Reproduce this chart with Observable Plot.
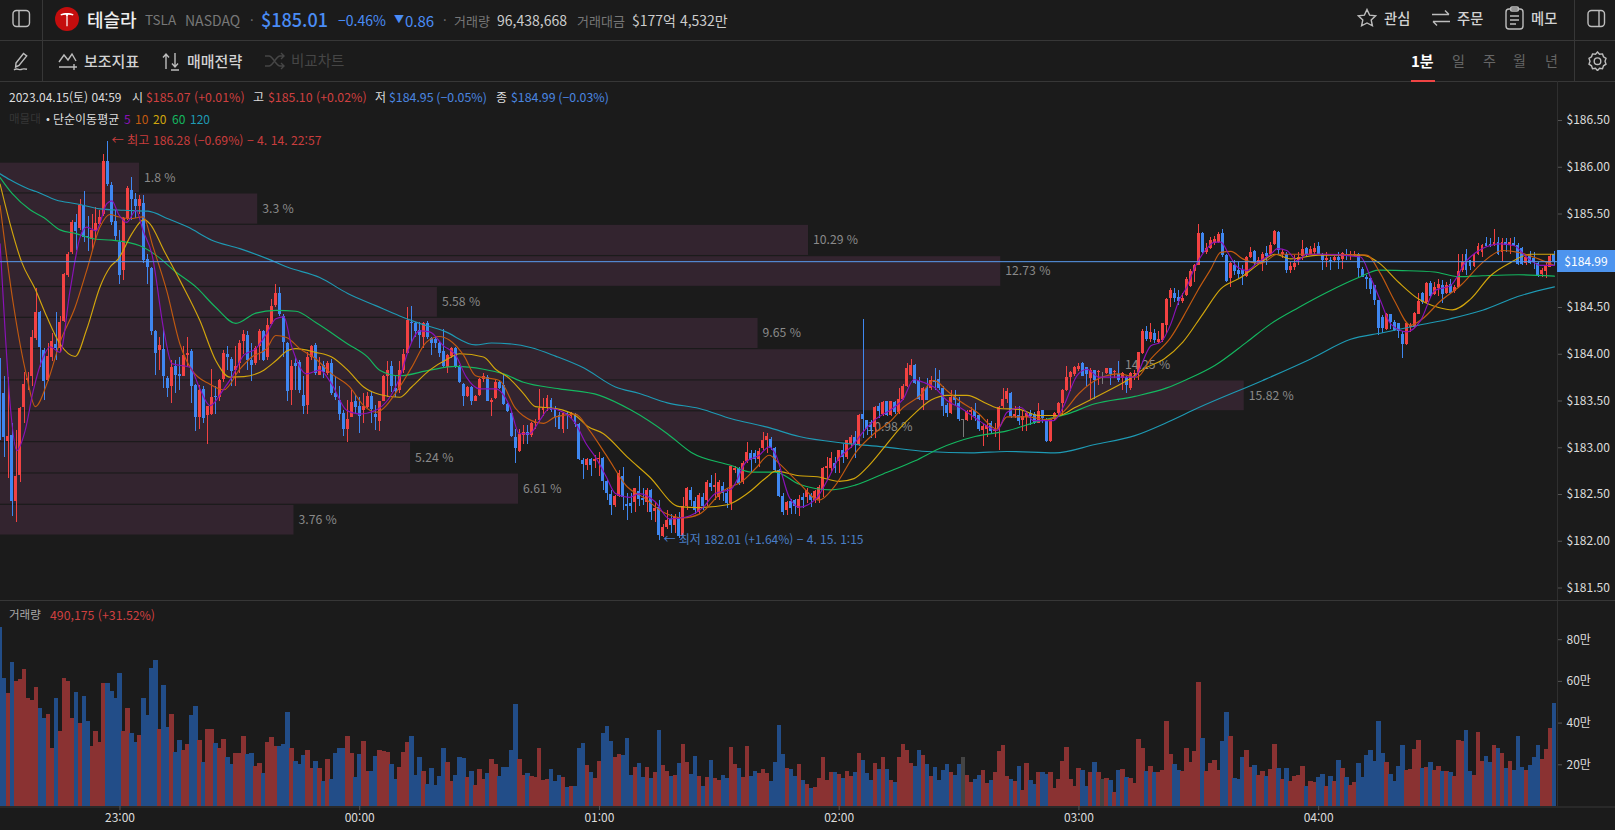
<!DOCTYPE html>
<html lang="ko"><head><meta charset="utf-8">
<script src="https://cdn.jsdelivr.net/npm/d3@7"></script>
<script src="https://cdn.jsdelivr.net/npm/@observablehq/plot@0.6"></script>
<style>
html,body{margin:0;padding:0;background:#1b1b1b;width:1615px;height:830px;overflow:hidden}
#app{position:relative;width:1615px;height:830px;font-family:"Noto Sans CJK KR","Noto Sans",sans-serif;color:#ddd}
#app>span{position:absolute;white-space:nowrap;line-height:1;transform:translateY(-50%)}
#app>svg.i{position:absolute;fill:none;stroke:#bdbdbd;stroke-width:1.4}
.ln{position:absolute;background:#373737}
.plotbox{position:absolute;left:0}
.g{color:#777}.v{color:#ccc}.b{font-weight:500;color:#d2d2d2}
.r{color:#cf4040}.bl{color:#4a86e0}.w{color:#ddd}
</style></head><body><div id="app">
<div class="ln" style="left:0;top:40px;width:1615px;height:1px"></div>
<div class="ln" style="left:0;top:81px;width:1615px;height:1px"></div>
<div class="ln" style="left:42px;top:0;width:1px;height:81px"></div>
<div class="ln" style="left:1574px;top:0;width:1px;height:81px"></div>
<div class="ln" style="left:1411px;top:80px;width:24px;height:2px;background:#ef4444"></div>

<svg class="i" style="left:12px;top:9px" width="19" height="19"><rect x="1" y="1.5" width="16.5" height="16" rx="3.5"/><path d="M7 2v15"/></svg>
<svg style="position:absolute;left:55px;top:7px" width="24" height="24"><circle cx="12" cy="12" r="12" fill="#c40d0d"/><path d="M5.5 7.2C9 5.6 15 5.6 18.5 7.2L18 8.6C16.5 8 15 7.8 13.3 7.8L12.6 9.2V19L12 19.6 11.4 19V9.2L10.7 7.8C9 7.8 7.5 8 6 8.6Z" fill="#fff"/></svg>
<span style="left:87px;top:19px;font-size:18px;font-weight:500;color:#eee">테슬라</span>
<span class="g" style="left:145px;top:20px;font-size:13.5px">TSLA</span>
<span class="g" style="left:185px;top:20px;font-size:14px">NASDAQ</span>
<span class="g" style="left:250px;top:19px;font-size:13px">·</span>
<span style="left:261px;top:19px;font-size:18px;font-weight:500;color:#4a8cf5">$185.01</span>
<span style="left:338px;top:20px;font-size:14px;color:#4a8cf5">−0.46%</span>
<span style="left:394px;top:19px;font-size:10px;color:#4a8cf5">▼</span>
<span style="left:405px;top:20px;font-size:15px;color:#4a8cf5">0.86</span>
<span class="g" style="left:443px;top:19px;font-size:13px">·</span>
<span class="g" style="left:454px;top:20px;font-size:13px">거래량</span>
<span class="v" style="left:497px;top:20px;font-size:14px">96,438,668</span>
<span class="g" style="left:577px;top:20px;font-size:13px">거래대금</span>
<span class="v" style="left:632px;top:20px;font-size:14px">$177억 4,532만</span>

<svg class="i" style="left:1357px;top:8px" width="20" height="20"><path d="M10 1.5l2.6 5.6 6 .7-4.4 4.1 1.2 5.9L10 15l-5.4 2.8 1.2-5.9L1.4 7.8l6-.7z"/></svg>
<span class="b" style="left:1384px;top:18px;font-size:14.3px">관심</span>
<svg class="i" style="left:1431px;top:9px" width="20" height="18"><path d="M1 5.5h17M14 1.5l4 4M19 12.5H2M6 16.5l-4-4"/></svg>
<span class="b" style="left:1457px;top:18px;font-size:14.3px">주문</span>
<svg class="i" style="left:1505px;top:6px" width="19" height="24"><rect x="1" y="3" width="17" height="20" rx="3"/><rect x="5.5" y="1" width="8" height="4" rx="1.5"/><path d="M5 10h9M5 14h9M5 18h6"/></svg>
<span class="b" style="left:1531px;top:18px;font-size:14.3px">메모</span>
<svg class="i" style="left:1587px;top:9px" width="19" height="19"><rect x="1" y="1.5" width="16.5" height="16" rx="3.5"/><path d="M12 2v15"/></svg>

<svg class="i" style="left:12px;top:51px" width="20" height="20"><path d="M4 12L11.5 2.5l3.2 2.4L7 14.5 3.6 16zM2 19c3-2.500 5 .5 7-.5s3-1 6-.2"/></svg>
<span class="b" style="left:84px;top:60px;font-size:15px">보조지표</span>
<svg class="i" style="left:58px;top:51px" width="20" height="19"><path d="M1 11l5-7 4 5 4-6 4 7M1 16h12M16 13v6M13 16h6"/></svg>
<span class="b" style="left:187px;top:60px;font-size:15px">매매전략</span>
<svg class="i" style="left:162px;top:52px" width="20" height="19"><path d="M4 17V2M1 5.500L4 2l3 3.500M13 1v14M10 11.500L13 15l3-3.500M9 18h8"/></svg>
<span style="left:291px;top:60px;font-size:14.500px;color:#464646">비교차트</span>
<svg class="i" style="left:265px;top:52px;stroke:#464646" width="20" height="18"><path d="M0 4h4c4 0 7 10 11 10h4M0 14h4c4 0 7-10 11-10h4M16 1l3 3-3 3M16 11l3 3-3 3"/></svg>
<span style="left:1411px;top:60px;font-size:15px;font-weight:700;color:#fff">1분</span>
<span class="g" style="left:1452px;top:60px;font-size:14px;color:#666">일</span>
<span class="g" style="left:1483px;top:60px;font-size:14px;color:#666">주</span>
<span class="g" style="left:1513px;top:60px;font-size:14px;color:#666">월</span>
<span class="g" style="left:1545px;top:60px;font-size:14px;color:#666">년</span>
<svg class="i" style="left:1588px;top:51px" width="19" height="20"><path d="M9.500 1l2 2.300 3-.4 1 2.900 2.500 1.600-1 2.900 1 2.900-2.500 1.600-1 2.900-3-.4-2 2.300-2-2.300-3 .4-1-2.900L1 13.200l1-2.900-1-2.900 2.500-1.600 1-2.900 3 .4z"/><circle cx="9.500" cy="10.200" r="3.300"/></svg>

<span class="w" style="left:9px;top:97px;font-size:12px">2023.04.15(토) 04:59</span>
<span class="w" style="left:132px;top:97px;font-size:12px">시</span>
<span class="r" style="left:146px;top:97px;font-size:12.350px">$185.07 (+0.01%)</span>
<span class="w" style="left:253px;top:97px;font-size:12px">고</span>
<span class="r" style="left:268px;top:97px;font-size:12.350px">$185.10 (+0.02%)</span>
<span class="w" style="left:375px;top:97px;font-size:12px">저</span>
<span class="bl" style="left:389px;top:97px;font-size:12.350px">$184.95 (−0.05%)</span>
<span class="w" style="left:496px;top:97px;font-size:12px">종</span>
<span class="bl" style="left:511px;top:97px;font-size:12.350px">$184.99 (−0.03%)</span>
<span style="left:9px;top:119px;font-size:11.500px;color:#363636">매물대</span>
<span class="w" style="left:46px;top:119px;font-size:11.500px">•</span>
<span class="w" style="left:53px;top:119px;font-size:12px">단순이동평균</span>
<span style="left:124px;top:119px;font-size:12px;color:#8a12b8">5</span>
<span style="left:135px;top:119px;font-size:12px;color:#c25a10">10</span>
<span style="left:153px;top:119px;font-size:12px;color:#d2a60c">20</span>
<span style="left:172px;top:119px;font-size:12px;color:#14b860">60</span>
<span style="left:190px;top:119px;font-size:12px;color:#1e9ab4">120</span>

<div class="plotbox" id="price" style="top:81px"></div>
<div class="ln" style="left:0;top:600px;width:1615px;height:1px"></div>
<div class="plotbox" id="vol" style="top:601px"></div>
<span style="left:9px;top:615px;font-size:11.500px;color:#aaa">거래량</span>
<span class="r" style="left:50px;top:615px;font-size:12.300px">490,175 (+31.52%)</span>
<div id="tag" style="position:absolute;left:1557px;width:58px;height:22px;background:#4d94ee;color:#fff;font-size:12px;line-height:22px;text-align:center">$184.99</div>
</div>
<script>
// Each candle: [open, high, low, close], one list per trading hour
const bars2230 = [
[183.93,183.95,183.08,183.17],[183.58,183.76,182.90,183.11],[183.07,183.75,182.67,183.12],[183.13,183.26,182.27,182.43],[182.43,183.18,182.20,182.69],
[182.70,183.43,182.63,183.42],[183.43,183.81,183.26,183.68],[183.72,183.81,183.61,183.74],[183.76,184.25,183.65,184.18],[184.17,184.70,184.15,184.45],
[184.45,184.46,183.86,184.07],[184.04,184.06,183.51,183.71],[183.72,184.11,183.71,183.98],[183.97,184.22,183.92,184.14],[184.10,184.45,183.93,184.06],
[184.06,184.40,184.02,184.34],[184.35,184.86,184.34,184.85],[184.84,185.09,184.82,185.07],[185.09,185.43,185.07,185.41],[185.41,185.50,185.11,185.31],
[185.34,185.66,185.32,185.59],[185.59,185.74,185.20,185.25],[185.26,185.47,185.10,185.25],[185.23,185.50,185.11,185.32],[185.32,185.57,185.22,185.40],
[185.39,185.54,185.38,185.46],[185.49,186.14,185.47,186.06],[186.06,186.28,185.79,185.82],[185.80,185.84,185.38,185.41],[185.42,185.54,185.22,185.26]];
const bars23 = [
[185.20,185.32,184.75,184.84],[184.90,185.46,184.79,185.45],[185.45,185.79,185.43,185.77],[185.75,185.89,185.43,185.65],[185.65,185.72,185.45,185.58],
[185.58,185.70,185.50,185.65],[185.61,185.70,184.97,185.00],[185.01,185.07,184.75,184.93],[184.92,184.93,184.20,184.24],[184.24,184.25,183.77,184.01],
[184.04,184.18,183.83,184.09],[184.05,184.27,183.63,183.76],[183.74,183.76,183.54,183.63],[183.66,183.93,183.47,183.86],[183.87,183.93,183.58,183.77],
[183.78,183.97,183.61,183.76],[183.76,184.08,183.76,183.99],[183.99,184.18,183.86,184.01],[184.03,184.05,183.47,183.66],[183.67,183.68,183.17,183.32],
[183.32,183.67,183.20,183.61],[183.62,183.65,183.26,183.31],[183.35,183.44,183.04,183.44],[183.36,183.84,183.35,183.54],[183.55,183.65,183.36,183.54],
[183.54,183.73,183.49,183.72],[183.73,184.04,183.70,184.01],[184.00,184.08,183.83,183.97],[183.94,183.97,183.65,183.82],[183.83,184.08,183.65,183.87],
[183.90,184.15,183.79,184.11],[184.14,184.25,184.00,184.21],[184.20,184.24,183.83,183.93],[183.93,184.11,183.71,183.88],[183.90,184.08,183.88,184.06],
[184.08,184.27,183.93,184.24],[184.24,184.25,183.92,183.93],[183.97,184.38,183.93,184.31],[184.32,184.59,184.31,184.51],[184.52,184.75,184.50,184.65],
[184.65,184.71,184.40,184.42],[184.40,184.42,183.97,184.13],[184.11,184.13,183.49,183.60],[183.61,183.93,183.45,183.87],[183.90,183.97,183.61,183.87],
[183.91,183.93,183.58,183.61],[183.56,183.76,183.36,183.44],[183.45,184.02,183.36,183.96],[183.96,184.09,183.93,184.08],[184.09,184.11,183.77,183.79],
[183.77,183.97,183.77,183.87],[183.88,183.92,183.74,183.81],[183.79,183.92,183.77,183.90],[183.90,183.94,183.56,183.58],[183.58,183.76,183.51,183.54],
[183.51,183.65,183.29,183.36],[183.37,183.40,183.12,183.20],[183.20,183.51,183.06,183.30],[183.32,183.61,183.32,183.48],[183.49,183.56,183.36,183.43]];
const bars00 = [
[183.44,183.54,183.15,183.33],[183.40,183.58,183.26,183.44],[183.43,183.59,183.42,183.55],[183.55,183.59,183.26,183.41],[183.36,183.45,183.18,183.32],
[183.28,183.50,183.17,183.49],[183.50,183.77,183.49,183.76],[183.76,183.92,183.54,183.83],[183.87,183.92,183.59,183.65],[183.63,183.77,183.54,183.60],
[183.61,183.92,183.58,183.83],[183.83,184.05,183.79,184.00],[184.01,184.50,184.00,184.36],[184.34,184.51,184.13,184.33],[184.33,184.34,184.18,184.24],
[184.25,184.34,184.06,184.20],[184.18,184.34,184.06,184.33],[184.33,184.35,184.16,184.18],[184.17,184.18,183.99,184.11],[184.16,184.18,184.06,184.11],
[184.12,184.13,183.97,184.01],[184.03,184.27,183.85,183.87],[183.86,184.00,183.79,183.99],[183.98,184.07,183.95,184.06],[184.06,184.07,183.85,183.87],
[183.87,183.88,183.69,183.70],[183.68,183.69,183.44,183.55],[183.55,183.65,183.54,183.64],[183.64,183.65,183.45,183.50],[183.50,183.56,183.49,183.55],
[183.56,183.74,183.55,183.73],[183.73,183.79,183.70,183.76],[183.75,183.77,183.49,183.50],[183.48,183.53,183.33,183.51],[183.53,183.72,183.52,183.70],
[183.70,183.72,183.62,183.63],[183.67,183.78,183.45,183.46],[183.46,183.47,183.38,183.39],[183.37,183.38,183.11,183.12],[183.11,183.19,182.83,182.99],
[182.96,183.19,182.95,183.14],[183.13,183.24,183.03,183.16],[183.16,183.24,183.04,183.13],[183.13,183.27,183.11,183.26],[183.26,183.30,183.19,183.27],
[183.29,183.62,183.27,183.42],[183.40,183.53,183.33,183.43],[183.43,183.56,183.39,183.53],[183.51,183.53,183.38,183.40],[183.41,183.44,183.22,183.31],
[183.34,183.38,183.19,183.19],[183.19,183.38,183.15,183.37],[183.37,183.38,183.19,183.34],[183.33,183.38,183.31,183.37],[183.35,183.37,183.22,183.25],
[183.25,183.26,182.86,182.87],[182.86,182.88,182.66,182.82],[182.81,182.88,182.76,182.87],[182.87,182.88,182.69,182.81],[182.85,182.92,182.78,182.87]];
const bars01 = [
[182.87,182.95,182.69,182.88],[182.89,182.90,182.54,182.64],[182.64,182.65,182.44,182.51],[182.50,182.54,182.28,182.38],[182.38,182.49,182.36,182.48],
[182.48,182.76,182.47,182.72],[182.69,182.79,182.33,182.47],[182.39,182.51,182.22,182.37],[182.40,182.51,182.30,182.37],[182.41,182.56,182.31,182.56],
[182.53,182.69,182.37,182.45],[182.46,182.56,182.38,182.44],[182.41,182.56,182.31,182.54],[182.54,182.55,182.22,182.31],[182.32,182.41,182.20,182.35],
[182.36,182.44,182.01,182.06],[182.05,182.18,182.04,182.15],[182.15,182.33,182.13,182.22],[182.23,182.29,182.08,182.17],[182.17,182.29,182.08,182.26],
[182.25,182.31,182.03,182.05],[182.05,182.47,182.03,182.37],[182.37,182.58,182.33,182.56],[182.54,182.58,182.37,182.44],[182.43,182.47,182.29,182.33],
[182.31,182.51,182.29,182.49],[182.47,182.51,182.33,182.37],[182.44,182.65,182.37,182.63],[182.62,182.70,182.53,182.58],[182.58,182.72,182.44,182.60],
[182.47,182.65,182.44,182.63],[182.59,182.63,182.42,182.51],[182.51,182.56,182.35,182.40],[182.40,182.80,182.33,182.80],[182.76,182.80,182.72,182.78],
[182.78,182.79,182.60,182.62],[182.63,182.85,182.61,182.83],[182.85,183.06,182.83,182.95],[182.94,182.97,182.74,182.86],[182.94,182.97,182.83,182.87],
[182.87,182.99,182.79,182.96],[182.99,183.16,182.97,183.08],[183.08,183.15,182.94,183.12],[183.09,183.11,182.97,182.99],[182.99,183.00,182.74,182.76],
[182.76,182.77,182.47,182.48],[182.48,182.51,182.28,182.31],[182.33,182.42,182.28,182.41],[182.42,182.45,182.29,182.35],[182.44,182.45,182.29,182.37],
[182.35,182.49,182.26,182.45],[182.47,182.51,182.35,182.44],[182.47,182.56,182.40,182.54],[182.49,182.51,182.36,182.44],[182.44,182.54,182.40,182.53],
[182.45,182.60,182.40,182.58],[182.54,182.79,182.47,182.78],[182.78,182.90,182.65,182.80],[182.78,182.95,182.72,182.88],[182.83,182.90,182.72,182.78]];
const bars02 = [
[182.85,182.97,182.72,182.97],[182.97,183.04,182.83,182.90],[182.90,183.08,182.87,183.08],[183.04,183.13,182.99,183.11],[183.11,183.17,182.88,183.03],
[183.04,183.36,183.01,183.35],[183.36,184.37,183.10,183.30],[183.29,183.29,183.13,183.20],[183.24,183.29,183.10,183.22],[183.22,183.44,183.10,183.43],
[183.44,183.47,183.31,183.39],[183.36,183.49,183.33,183.48],[183.49,183.50,183.33,183.35],[183.35,183.50,183.33,183.49],[183.48,183.49,183.36,183.38],
[183.38,183.63,183.36,183.52],[183.52,183.68,183.51,183.66],[183.66,183.90,183.64,183.85],[183.77,183.94,183.76,183.88],[183.88,183.89,183.68,183.69],
[183.72,183.75,183.51,183.52],[183.51,183.64,183.40,183.63],[183.63,183.74,183.51,183.51],[183.63,183.76,183.61,183.72],[183.72,183.85,183.61,183.70],
[183.73,183.83,183.61,183.63],[183.63,183.66,183.33,183.44],[183.45,183.47,183.32,183.37],[183.37,183.61,183.36,183.54],[183.54,183.61,183.44,183.51],
[183.47,183.54,183.28,183.30],[183.29,183.30,183.11,183.29],[183.29,183.40,183.28,183.39],[183.38,183.43,183.29,183.40],[183.40,183.47,183.28,183.33],
[183.35,183.36,183.17,183.19],[183.18,183.25,183.01,183.23],[183.20,183.30,183.11,183.24],[183.26,183.28,183.14,183.17],[183.17,183.26,183.11,183.19],
[183.19,183.44,182.97,183.43],[183.44,183.63,183.42,183.52],[183.52,183.63,183.47,183.60],[183.58,183.59,183.31,183.33],[183.33,183.44,183.31,183.36],
[183.35,183.44,183.24,183.28],[183.29,183.39,183.17,183.33],[183.32,183.39,183.17,183.37],[183.37,183.40,183.24,183.33],[183.36,183.38,183.25,183.26],
[183.26,183.47,183.26,183.39],[183.40,183.40,183.26,183.31],[183.29,183.31,183.06,183.07],[183.07,183.31,183.06,183.30],[183.30,183.38,183.29,183.37],
[183.37,183.48,183.35,183.47],[183.47,183.62,183.36,183.61],[183.61,183.87,183.60,183.75],[183.75,183.82,183.60,183.81],[183.78,183.87,183.76,183.86]];
const bars03 = [
[183.84,183.90,183.82,183.87],[183.90,183.91,183.76,183.76],[183.86,183.86,183.65,183.78],[183.74,183.85,183.52,183.83],[183.83,183.83,183.52,183.72],
[183.80,183.83,183.67,183.82],[183.80,183.81,183.68,183.80],[183.79,183.85,183.78,183.85],[183.85,183.85,183.67,183.78],[183.80,183.83,183.74,183.82],
[183.78,183.92,183.70,183.72],[183.74,183.81,183.61,183.79],[183.75,183.76,183.58,183.67],[183.63,183.81,183.61,183.79],[183.78,183.83,183.72,183.79],
[183.80,184.02,183.72,184.02],[184.01,184.26,184.00,184.24],[184.24,184.30,184.14,184.16],[184.16,184.33,184.13,184.23],[184.22,184.26,184.11,184.15],
[184.13,184.24,184.12,184.16],[184.15,184.33,184.13,184.33],[184.31,184.60,184.22,184.59],[184.60,184.70,184.50,184.68],[184.65,184.70,184.55,184.60],
[184.61,184.68,184.52,184.56],[184.56,184.65,184.54,184.60],[184.63,184.82,184.62,184.80],[184.72,184.91,184.71,184.88],[184.88,184.96,184.77,184.95],
[184.95,185.39,184.95,185.29],[185.29,185.30,185.08,185.09],[185.09,185.18,185.07,185.13],[185.13,185.25,185.12,185.22],[185.18,185.26,185.16,185.23],
[185.20,185.30,185.18,185.28],[185.29,185.33,185.04,185.06],[185.06,185.07,184.77,184.78],[184.81,184.98,184.71,184.97],[184.95,185.00,184.84,184.89],
[184.90,184.98,184.81,184.85],[184.90,184.95,184.74,184.85],[184.83,185.05,184.82,185.04],[185.04,185.14,185.02,185.09],[185.10,185.11,184.95,184.97],
[184.97,185.04,184.96,185.00],[184.98,185.09,184.89,185.07],[185.08,185.15,184.95,185.05],[185.07,185.19,185.06,185.16],[185.17,185.32,185.16,185.31],
[185.30,185.31,185.07,185.11],[185.07,185.12,185.02,185.09],[185.07,185.09,184.86,184.90],[184.90,184.98,184.86,184.94],[184.93,185.06,184.90,184.97],
[185.00,185.09,184.95,185.04],[185.05,185.22,185.00,185.12],[185.13,185.14,185.04,185.07],[185.07,185.15,185.06,185.12],[185.09,185.18,185.07,185.13]];
const bars04 = [
[185.15,185.20,185.07,185.07],[185.06,185.08,184.90,185.00],[185.00,185.09,184.93,185.02],[185.00,185.03,184.90,184.99],[185.00,185.05,184.98,185.04],
[185.03,185.09,184.91,185.00],[185.01,185.09,184.91,185.08],[185.07,185.12,185.00,185.06],[185.06,185.10,185.00,185.07],[185.06,185.10,185.05,185.07],
[185.07,185.08,184.82,184.92],[184.91,184.93,184.82,184.82],[184.82,184.84,184.69,184.80],[184.81,184.82,184.64,184.69],[184.73,184.74,184.52,184.58],
[184.57,184.58,184.20,184.28],[184.39,184.41,184.22,184.28],[184.26,184.44,184.25,184.43],[184.42,184.43,184.27,184.34],[184.34,184.36,184.24,184.25],
[184.33,184.33,184.17,184.24],[184.21,184.24,183.95,184.10],[184.10,184.33,184.09,184.33],[184.29,184.33,184.23,184.31],[184.29,184.45,184.28,184.44],
[184.43,184.65,184.42,184.56],[184.65,184.66,184.53,184.55],[184.55,184.77,184.54,184.76],[184.76,184.78,184.60,184.62],[184.64,184.77,184.63,184.71],
[184.70,184.80,184.62,184.75],[184.74,184.79,184.54,184.64],[184.65,184.77,184.64,184.74],[184.75,184.80,184.65,184.65],[184.67,184.74,184.65,184.71],
[184.71,185.07,184.70,184.89],[184.90,185.07,184.87,184.98],[185.07,185.12,184.84,184.90],[185.00,185.00,184.90,184.94],[184.94,185.08,184.93,185.07],
[185.07,185.18,185.06,185.15],[185.09,185.17,185.04,185.16],[185.18,185.25,185.15,185.15],[185.17,185.24,185.14,185.16],[185.16,185.33,185.15,185.20],
[185.20,185.25,185.06,185.07],[185.09,185.24,184.99,185.20],[185.19,185.24,185.09,185.16],[185.16,185.24,185.07,185.20],[185.18,185.25,185.15,185.16],
[185.16,185.18,184.95,184.96],[185.13,185.14,184.95,184.96],[184.97,185.04,184.95,185.03],[185.06,185.10,184.96,184.97],[185.02,185.09,184.91,184.98],
[184.97,184.98,184.82,184.84],[184.85,184.92,184.82,184.90],[184.89,184.97,184.81,184.95],[184.93,185.07,184.93,185.05],[185.07,185.10,184.95,184.99]];

// Volume per minute, in units of 만
const volumes = [86,61.5,54,69,60,61,65.5,52,50.7,57,47,42,44,28,52,36,61.5,60,42,54.5,40,52.6,41,28.6,36,30.5,59,59,55,52,
63.6,36,47,35,30.5,34,52,43.5,66,70,37,58,38,44,26,31.5,26.7,29.6,43.5,48,31.5,21,37,37,30,27.7,32,23.3,20,25.6,
25.6,33.4,24.8,25.6,19.3,20.5,16,30.5,33,28.6,28.6,29.6,45,28,21.4,20,24.3,26.7,18,21.4,18,11.8,22.4,12.8,25.3,28,27.7,33.4,25.3,13.7,
24.8,31,16.6,17,23.8,27,26.5,26,20,12.8,18.5,25.7,30.5,33.4,15,23.3,16.6,10.4,18,10,14.2,27.7,21,11.8,14.7,23.3,22.9,13.7,17,10,
17.6,12.8,16,22.4,20,14.2,18.5,18.5,26.7,48.8,22.4,15,16,14.2,13.7,28,12.5,13,17.7,12,15,13.7,9,9.6,9.6,27.8,30,19.7,16.3,13.4,
21.6,35,38.4,31,23.5,25,24.5,32.6,15,18.7,20.6,13.9,18.7,13.4,16.3,36.5,19.7,16.8,14.4,15,20.6,29.7,21,15.3,24,14.4,9.6,13.9,22,13.4,
12.5,15,13.4,28.3,20,18.2,13.9,28.8,14.4,16.8,15.8,17.7,15.8,12,21,38.8,25,18.2,17.7,14.4,20,12.5,10.5,8.6,9.3,13.4,23.5,12.5,16.3,16.3,
15.3,13.4,16.8,14.4,16.3,25.4,22,15.8,12.5,20.6,17.7,23.5,17.7,12.5,11.5,23.5,29.7,26.9,20.6,19.2,26.9,24.5,20,14.4,18.7,12.5,17.3,20,16.3,15,
20,23.5,15,11.5,13,15,17.3,11,12.5,16.3,26.4,29.3,14.4,13,12,19.2,7.7,20.6,12.5,10.5,16.3,16.3,15.3,16.3,8.6,13,21.6,28.3,13,9.6,
18.2,17.3,9.6,16.3,21,16.3,13,13.4,12.5,6.7,17.3,17.7,13.9,13.4,11,32,27.8,16.8,19.2,16.3,16.3,17.3,40.8,25,20,17.3,16.8,27.8,21,26.4,
59.5,32.6,16.8,20.6,22,17.3,31,45,33.6,13.4,13,23.5,26.9,18.7,19.7,15,16.8,14.4,17.7,29.7,18.2,13,18.2,12,14.4,15,19.2,9.6,12,11.5,
13.9,15.3,9.6,14.4,12,22,18.2,13.9,10,11.5,20.6,13.9,24.5,26.9,21.6,41,25.4,21,15.3,12,19.2,29.3,17.3,17.7,27.3,31.7,18.2,18.7,21,17.3,
19.2,16.8,16.8,16.3,14.4,31.7,31,36.5,16.8,15,35.5,21.6,24,21,29.3,27.8,25.4,18.2,21.6,17.3,33.6,18.7,17.3,19.7,23.5,29.3,22.5,27.3,37.4,49.4];

// Moving averages read as [minute index, price]
const ma5 = [[0,185.18],[1.25,184.25],[2.5,183.47],[4.2,182.97],[6.25,183.18],[8.3,183.61],[10.8,183.97],[12.5,184.08],[15,184.02],[17.5,184.68],[20,185.25],[21.7,185.36],[24,185.32],[26.7,185.61],[28,185.64],[29.6,185.5],[31.7,185.41],[34,185.54],[35.8,185.32],[38,185.07],[41,184.25],[43,183.9],[47.5,183.86],[50,183.63],[52.5,183.45],[56,183.63],[58,183.755],[61,183.99],[64,184.06],[66.7,184.22],[69,184.38],[71,184.4],[73,184.08],[76.7,183.79],[80,183.83],[83,183.68],[86.7,183.4],[90,183.36],[94,183.4],[100,183.75],[102.5,184.08],[105,184.25],[107.5,184.24],[111,184.09],[114,183.99],[116.7,183.755],[120,183.63],[124,183.63],[127.5,183.45],[130,183.15],[132.5,183.15],[135,183.29],[137.5,183.42],[141,183.38],[144,183.26],[146.7,183.04],[149,182.9],[151.7,182.69],[154,182.51],[157.5,182.47],[160,182.51],[164,182.42],[167.5,182.24],[171.7,182.26],[176,182.365],[179,182.51],[183,182.56],[186.7,182.85],[190,182.92],[192.5,183.01],[194,182.935],[197.5,182.47],[200,182.365],[204.5,182.47],[207,182.65],[209.5,182.86],[213.7,183.04],[216,183.17],[218.7,183.29],[223.7,183.43],[226,183.52],[228.7,183.73],[231,183.7],[233.7,183.65],[237,183.505],[241,183.41],[245,183.29],[249.5,183.185],[252,183.38],[255.5,183.43],[258.7,183.29],[263.7,183.29],[266,183.43],[269.5,183.77],[272,183.84],[275,183.755],[279.5,183.755],[283.7,183.755],[288,184.09],[290.5,184.13],[293,184.325],[295,184.57],[297,184.72],[299,184.93],[302,185.13],[304,185.2],[305.5,185.2],[307.5,185.07],[309.7,184.93],[312,184.895],[314.7,184.98],[318,185.07],[319.7,185.13],[322,185.11],[324.7,185],[327,185.07],[330.5,185.07],[340.5,185.04],[343,184.82],[345.5,184.57],[348,184.325],[352,184.24],[355.5,184.36],[359,184.68],[363,184.735],[367,185],[371,185.13],[375.5,185.18],[379,185.16],[382,185.04],[385.5,184.95],[389,184.95]];
const ma10 = [[0,185.59],[3.3,184.54],[6.7,183.755],[8.8,183.44],[12,183.72],[15,184.13],[18.75,184.5],[21.7,184.9],[25,185.36],[27.5,185.495],[29.6,185.47],[32.5,185.45],[35.8,185.47],[38.3,185.145],[41.7,184.68],[45,184.11],[48,183.83],[52.5,183.68],[56,183.62],[60,183.84],[63,183.97],[66.7,184.06],[69,184.2],[71.7,184.18],[75,184.06],[79,183.95],[83,183.79],[87.5,183.65],[91,183.45],[94,183.38],[100,183.65],[103,183.86],[106.7,184.13],[110,184.19],[112.5,184.15],[116,183.99],[119,183.77],[125,183.72],[129,183.42],[133,183.29],[136,183.26],[139,183.33],[144,183.36],[147.5,183.185],[152,182.9],[157,182.58],[161,182.47],[166,182.31],[171,182.25],[175,182.29],[181,182.54],[186,182.65],[189,182.775],[192.5,182.92],[195,182.83],[200,182.62],[205,182.44],[208.7,182.58],[214.5,182.97],[218.7,183.15],[223,183.29],[226,183.43],[230.3,183.56],[233.7,183.72],[237,183.61],[240,183.505],[244.5,183.38],[249.5,183.2],[252,183.33],[257,183.33],[262,183.3],[266,183.38],[270,183.58],[275,183.74],[280,183.79],[284.5,183.755],[288,183.95],[293,184.18],[297,184.47],[299.7,184.68],[303,184.91],[305.5,185.09],[308,185.1],[311,185.02],[315.5,184.97],[319.7,185.07],[324,185.07],[330,185.07],[342,185.06],[345.5,184.86],[349,184.57],[353,184.31],[356,184.38],[360.5,184.57],[365.5,184.735],[371,184.98],[376,185.11],[380,185.09],[385,185.02],[389,184.95]];
const ma20 = [[0,185.82],[2.5,185.395],[5.4,184.985],[8.75,184.7],[11.7,184.4],[15,184.11],[18.8,183.976],[21.7,184.27],[25,184.72],[27.5,184.93],[29.6,185.02],[33,185.29],[36,185.44],[37.5,185.395],[41,185.11],[45,184.79],[50,184.36],[54,183.93],[57.5,183.755],[61,183.76],[66,183.83],[69,183.93],[72,184.04],[74,184.06],[79,184.02],[83,183.97],[87,183.83],[91,183.65],[95,183.57],[100,183.54],[103,183.65],[107.5,183.83],[112,183.95],[115,184.005],[121,183.97],[124,183.84],[127.5,183.74],[131,183.58],[134,183.44],[139,183.42],[144,183.345],[147,183.23],[151,183.15],[157,182.9],[162.5,182.69],[170,182.37],[175,182.36],[182,182.39],[187,182.51],[192,182.69],[194,182.75],[200,182.7],[204.5,182.69],[210,182.64],[213.7,182.67],[217,182.79],[221,182.99],[225,183.2],[228.7,183.36],[233,183.51],[237,183.56],[242,183.56],[247,183.47],[250,183.42],[255,183.41],[260,183.345],[265,183.345],[269,183.43],[275,183.56],[282,183.72],[287,183.86],[291.3,183.95],[296,184.13],[301,184.43],[305.5,184.7],[310.5,184.82],[315.5,184.98],[319,185.07],[323,185.02],[330,185.06],[341,185.06],[345,184.98],[350,184.77],[355,184.59],[360,184.5],[363.5,184.475],[368,184.59],[373,184.84],[378,184.98],[383,185.07],[389,185.07]];
const ma60 = [[0,185.89],[3,185.72],[7.5,185.545],[11,185.46],[15,185.33],[19,185.29],[24,185.23],[28,185.22],[35,185.16],[39,185.06],[44,184.88],[49,184.72],[54,184.5],[59,184.33],[64,184.44],[69,184.47],[74,184.46],[79,184.34],[87,184.11],[92,183.97],[95,183.83],[100,183.77],[107.5,183.83],[114,183.87],[121,183.84],[126,183.79],[131,183.7],[140,183.63],[150,183.56],[158,183.4],[167,183.15],[173,182.95],[183,182.81],[188,182.74],[194,182.74],[200,182.61],[208,182.55],[214,182.6],[221,182.72],[229,182.86],[235,182.99],[244,183.12],[252,183.18],[260,183.285],[267,183.36],[274,183.47],[284,183.55],[292,183.64],[297,183.73],[304,183.88],[312,184.13],[318,184.325],[325,184.5],[332,184.66],[340,184.82],[345,184.9],[351,184.895],[359,184.88],[365,184.83],[371,184.84],[380,184.85],[389,184.835]];
const ma120 = [[0,185.93],[2.5,185.865],[7,185.77],[9,185.74],[14,185.65],[19,185.61],[25,185.555],[31,185.54],[37,185.53],[42,185.45],[47,185.36],[53,185.22],[60,185.13],[67,185.02],[72,184.93],[80,184.82],[87,184.65],[94,184.52],[100,184.41],[105,184.33],[111,184.25],[119,184.1],[123,184.12],[128,184.11],[133,184.07],[139,183.98],[146,183.855],[154,183.65],[160,183.58],[167,183.48],[175,183.42],[183,183.31],[192,183.22],[200,183.12],[211,183.05],[221,183.01],[232,182.96],[243,182.945],[252,182.96],[264,182.945],[274,183.035],[284,183.13],[292,183.27],[300,183.43],[316,183.72],[328,183.95],[338,184.16],[346,184.23],[355,184.31],[363,184.38],[371,184.47],[380,184.62],[389,184.72]];

// Volume-profile bands (매물대)
const bandPercents = [1.8,3.3,10.29,12.73,5.58,9.65,14.25,15.82,10.98,5.24,6.61,3.76];
const bandEdges = [186.05,185.72,185.385,185.05,184.72,184.39,184.055,183.72,183.39,183.06,182.725,182.39,182.06];
const priceTicks = [186.5,186,185.5,185,184.5,184,183.5,183,182.5,182,181.5];
const volumeTicks = [20,40,60,80];
const hourTicks = [30,90,150,210,270,330];
const hourLabels = ["23:00","00:00","01:00","02:00","03:00","04:00"];
const lastClose = 184.99;
const highIndex = 27, highPrice = 186.28, lowIndex = 165, lowPrice = 182.01;
const highLabel = "← 최고 186.28 (−0.69%) − 4. 14. 22:57";
const lowLabel = "← 최저 182.01 (+1.64%) − 4. 15. 1:15";

const font = '"Noto Sans CJK KR","Noto Sans",sans-serif';
const xDomain = [0.1, 389.77];
const barsPerPercent = 19.72, bandOffset = -0.7;
const UP="#f24242", DOWN="#3f87f0", FLAT="#7a7a7a";
const candles = [...bars2230,...bars23,...bars00,...bars01,...bars02,...bars03,...bars04]
  .map(([o,h,l,c],i)=>({i,o,h,l,c,v:volumes[i],col:c>o?UP:c<o?DOWN:FLAT,vcol:c>o?"#8a3232":c<o?"#224d88":"#444444"}));
const bands = bandPercents.map((pct,k)=>({pct,top:bandEdges[k],bottom:bandEdges[k+1],end:xDomain[0]+bandOffset+pct*barsPerPercent,label:pct+" %"}));
const lineOpts = (col)=>({x:d=>d[0],y:d=>d[1],stroke:col,strokeWidth:1.15,curve:"monotone-x",clip:true});

const price = Plot.plot({
  width:1615,height:519,marginLeft:0,marginRight:58,marginTop:0,marginBottom:0,
  style:{background:"transparent",color:"#dcdcdc",fontFamily:font,fontSize:"12px",overflow:"visible"},
  x:{domain:xDomain,range:[0,1557],axis:null},
  y:{domain:[186.5-(600-120)/93.5,186.5+(120-81)/93.5],range:[519,0],axis:null},
  marks:[
    Plot.ruleX([xDomain[1]],{stroke:"#2f2f2f"}),
    Plot.rect(bands,{x1:xDomain[0],x2:"end",y1:"top",y2:"bottom",fill:"#33242f",insetTop:0.6,insetBottom:0.6,clip:true}),
    Plot.text(bands,{x:"end",y:d=>(d.top+d.bottom)/2,text:"label",dx:4.5,textAnchor:"start",fill:"#8a8a8a",fontSize:12.2}),
    Plot.ruleX(candles,{x:"i",y1:"l",y2:"h",stroke:"col",strokeWidth:1,clip:true,shapeRendering:"crispEdges"}),
    Plot.rect(candles,{x1:d=>d.i-0.37,x2:d=>d.i+0.37,y1:d=>Math.min(d.o,d.c),y2:d=>Math.max(d.o,d.c)+(d.o===d.c?0.008:0),fill:"col",clip:true,shapeRendering:"crispEdges"}),
    Plot.line(ma120,lineOpts("#1e9ab4")),
    Plot.line(ma60,lineOpts("#14b860")),
    Plot.line(ma20,lineOpts("#d2a60c")),
    Plot.line(ma10,lineOpts("#c25a10")),
    Plot.line(ma5,lineOpts("#8a12b8")),
    Plot.ruleY([lastClose],{x1:xDomain[0],x2:xDomain[1],stroke:"#5a9bf0",strokeWidth:1}),
    Plot.text([0],{x:highIndex,y:highPrice,text:()=>highLabel,textAnchor:"start",dx:3.5,fill:"#c93d3d",fontSize:12.2}),
    Plot.text([0],{x:lowIndex,y:lowPrice,text:()=>lowLabel,textAnchor:"start",dx:4,fill:"#4a7fc7",fontSize:12}),
    Plot.axisY({anchor:"right",ticks:priceTicks,tickFormat:d=>"$"+d.toFixed(2),tickSize:4,tickPadding:5,stroke:"#555",label:null,textAnchor:"start"})
  ]
});
document.getElementById("price").append(price);
document.getElementById("tag").style.top = (81+price.scale("y").apply(lastClose)-11)+"px";

const vol = Plot.plot({
  width:1615,height:229,marginLeft:0,marginRight:58,marginTop:0,marginBottom:24,
  style:{background:"transparent",color:"#dcdcdc",fontFamily:font,fontSize:"12px",overflow:"visible"},
  x:{domain:xDomain,range:[0,1557],axis:null},
  y:{domain:[0,205/2.085],range:[205,0],axis:null},
  marks:[
    Plot.ruleX([xDomain[1]],{stroke:"#2f2f2f"}),
    Plot.rect(candles,{x1:d=>d.i-0.5,x2:d=>d.i+0.62,y1:0,y2:"v",fill:"vcol",clip:true,shapeRendering:"crispEdges"}),
    Plot.ruleY([0],{x1:xDomain[0],x2:xDomain[1]+14.6,stroke:"#383838",dy:0.5}),
    Plot.axisY({anchor:"right",ticks:volumeTicks,tickFormat:d=>d+"만",tickSize:4,tickPadding:5,stroke:"#555",label:null,textAnchor:"start"}),
    Plot.axisX({ticks:hourTicks,tickFormat:d=>hourLabels[hourTicks.indexOf(d)],tickSize:4,tickPadding:3,stroke:"#555",label:null})
  ]
});
document.getElementById("vol").append(vol);
</script></body></html>
